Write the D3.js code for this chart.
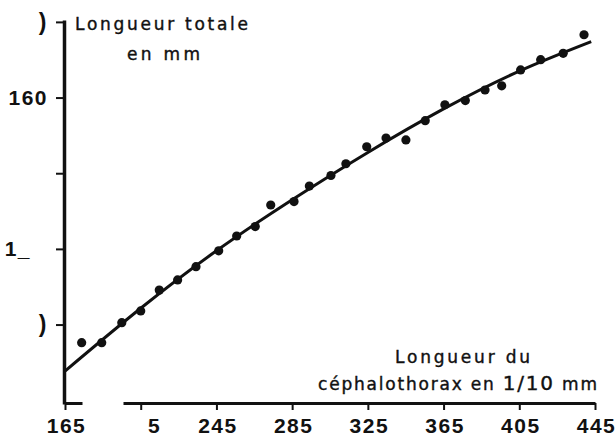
<!DOCTYPE html>
<html>
<head>
<meta charset="utf-8">
<script src="https://cdn.jsdelivr.net/npm/d3@7"></script>
<style>
  body { margin: 0; background: #fff; }
  svg { display: block; font-family: "Liberation Sans", Arial, sans-serif; }
</style>
</head>
<body>
<svg width="615" height="436"></svg>
<script>
// points: cephalothorax (1/10 mm) vs total length (mm)
const cephalo = [173.8, 184.4, 195.0, 205.0, 214.8, 224.5, 234.2, 246.2, 255.7, 265.5,
                 273.7, 286.0, 294.1, 305.5, 313.4, 324.4, 334.6, 345.1, 355.3, 365.7,
                 376.5, 386.9, 395.7, 405.7, 416.3, 428.2, 439.2];
const totale = [95.2, 95.2, 100.5, 103.6, 109.1, 111.8, 115.3, 119.5, 123.4, 125.9,
                131.6, 132.5, 136.6, 139.4, 142.5, 147.0, 149.3, 148.8, 153.9, 158.1,
                159.2, 162.0, 163.1, 167.3, 170.0, 171.7, 176.6];

// fitted curve, read at a few places
const curveX = [165, 205, 245, 285, 325, 365, 405, 443];
const curveY = [87.7, 104.3, 119.5, 133, 145.5, 157, 167, 174.8];

const xTicks = [165, 205, 245, 285, 325, 365, 405, 445];
const xTickLabels = ["165", "5", "245", "285", "325", "365", "405", "445"];
const yTicks = [100, 120, 140, 160, 180];
const yTickLabels = [")", "1_", "", "160", ")"];  // scan cuts most of them

const svg = d3.select("svg");

const x = d3.scaleLinear().domain([165, 445]).range([65, 595]);
const y = d3.scaleLinear().domain([79, 180.5]).range([404, 20]);

// x axis (line is broken in the scan near the left)
const gx = svg.append("g")
    .attr("transform", `translate(0,${y(79) - 1})`)
    .call(d3.axisBottom(x).tickValues(xTicks).tickSize(7).tickSizeOuter(0).tickPadding(8)
            .tickFormat((d, i) => xTickLabels[i]));
gx.select(".domain").attr("stroke", "#111").attr("stroke-width", 3)
    .attr("stroke-dasharray", "17,41,1000");
gx.selectAll(".tick line").attr("stroke", "#111").attr("stroke-width", 2);
gx.selectAll(".tick text")
    .attr("fill", "#111")
    .style("font-size", "21px").style("font-weight", "bold").style("letter-spacing", "1.5px")
    .attr("text-anchor", (d, i) => i === 1 ? "end" : "middle")
    .attr("dx", (d, i) => i === 1 ? 20 : 1);

// y axis
const gy = svg.append("g")
    .attr("transform", `translate(${x(165) - 1},0)`)
    .call(d3.axisLeft(y).tickValues(yTicks).tickSize(8).tickSizeOuter(0).tickPadding(8)
            .tickFormat((d, i) => yTickLabels[i]));
gy.select(".domain").attr("stroke", "#111").attr("stroke-width", 3.5);
gy.selectAll(".tick line").attr("stroke", "#111").attr("stroke-width", 2);
gy.selectAll(".tick text")
    .attr("fill", "#111")
    .style("font-size", (d, i) => (i === 0 || i === 4) ? "23px" : "21px")
    .style("font-weight", "bold").style("letter-spacing", "1.5px")
    .attr("dx", (d, i) => i === 1 ? -17 : 0);

// fitted curve
const line = d3.line()
    .x(d => x(d[0]))
    .y(d => y(d[1]))
    .curve(d3.curveNatural);
svg.append("path")
    .datum(curveX.map((v, i) => [v, curveY[i]]))
    .attr("fill", "none")
    .attr("stroke", "#111")
    .attr("stroke-width", 3)
    .attr("d", line);

// points
svg.selectAll(".pt")
    .data(cephalo.map((v, i) => [v, totale[i]]))
    .enter()
    .append("circle")
    .attr("class", "pt")
    .attr("cx", d => x(d[0]))
    .attr("cy", d => y(d[1]))
    .attr("r", 4.6)
    .attr("fill", "#111");

// titles
const title = svg.append("g")
    .attr("fill", "#111").attr("stroke", "#111").attr("stroke-width", 0.4)
    .style("font-family", "'DejaVu Sans', sans-serif").style("font-size", "17px");
title.append("text").attr("x", 75).attr("y", 30)
    .attr("textLength", 173).attr("lengthAdjust", "spacing").text("Longueur totale");
title.append("text").attr("x", 127).attr("y", 60)
    .attr("textLength", 73).attr("lengthAdjust", "spacing").text("en mm");
title.append("text").attr("x", 395).attr("y", 363)
    .attr("textLength", 135).attr("lengthAdjust", "spacing").text("Longueur du");
const t2 = title.append("text").attr("x", 318).attr("y", 390)
    .attr("textLength", 279).attr("lengthAdjust", "spacing");
t2.append("tspan").text("céphalothorax en ");
t2.append("tspan").style("font-size", "20px").text("1/10");
t2.append("tspan").text(" mm");
</script>
</body>
</html>
